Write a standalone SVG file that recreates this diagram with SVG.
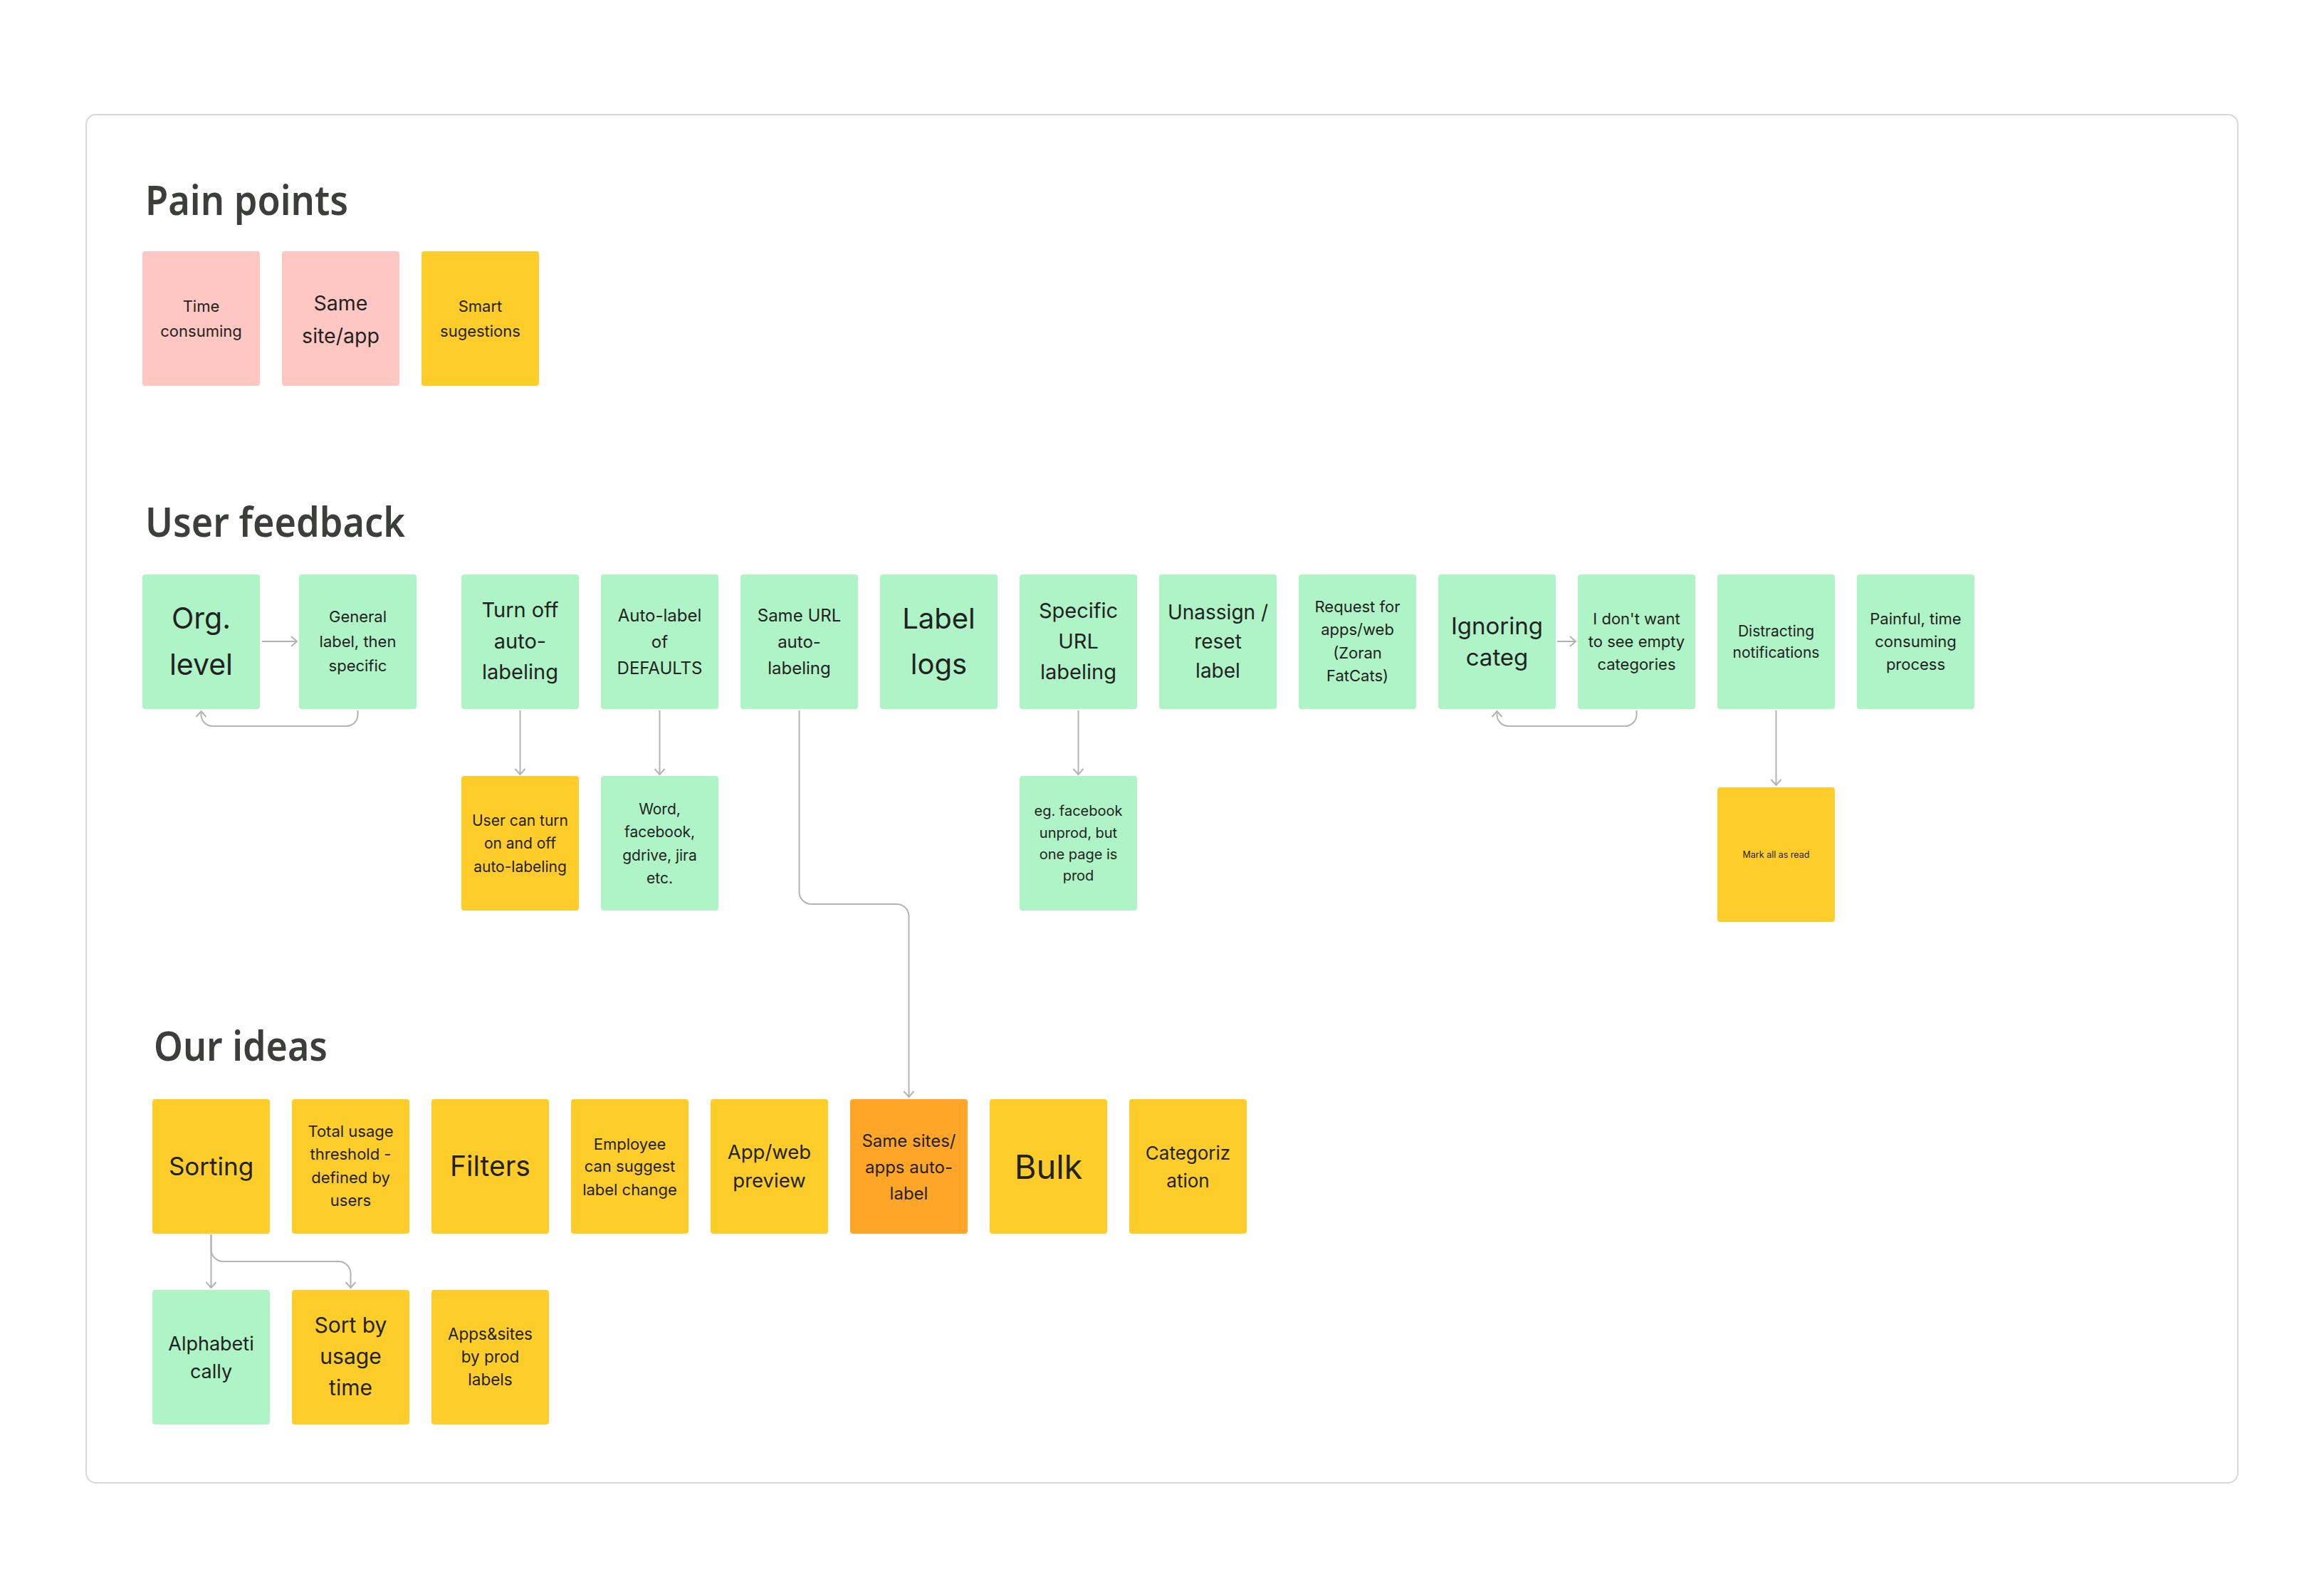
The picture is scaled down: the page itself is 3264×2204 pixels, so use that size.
<svg xmlns="http://www.w3.org/2000/svg" width="3264" height="2204" viewBox="0 0 3264 2204">
<style>
.frame{fill:#ffffff;stroke:#d9d7d7;stroke-width:2}
.title{font-family:"Noto Sans","Open Sans",sans-serif;font-weight:600;font-size:57px;fill:#3b3e3b}
.green{fill:#aff4c6}
.pink{fill:#ffc7c2}
.yellow{fill:#ffcd29}
.orange{fill:#ffa629}
.t{font-family:Inter,"Noto Sans",sans-serif;fill:#222222;text-anchor:middle}
.conn{fill:none;stroke:#b3b3b3;stroke-width:2}
</style>
<defs>
<marker id="arr" viewBox="-10 -10 20 20" refX="0" refY="0" markerWidth="20" markerHeight="20" markerUnits="userSpaceOnUse" orient="auto">
<path d="M -8 -7 L 0 0 L -8 7" fill="none" stroke="#b3b3b3" stroke-width="2"/>
</marker>
</defs>
<rect width="3264" height="2204" fill="#ffffff"/>
<rect class="frame" x="121" y="161" width="3022" height="1922" rx="14"/>

<text class="title" x="204" y="302" textLength="285" lengthAdjust="spacingAndGlyphs">Pain points</text>
<text class="title" x="204" y="754" textLength="365" lengthAdjust="spacingAndGlyphs">User feedback</text>
<text class="title" x="216" y="1490" textLength="244" lengthAdjust="spacingAndGlyphs">Our ideas</text>

<g id="connectors">
<path class="conn" d="M 368 901 H 417" marker-end="url(#arr)"/>
<path class="conn" d="M 502.5 998 V 1004 A 16 16 0 0 1 486.5 1020 H 298.5 A 16 16 0 0 1 282.5 1004 V 999" marker-end="url(#arr)"/>
<path class="conn" d="M 730.5 998 V 1088" marker-end="url(#arr)"/>
<path class="conn" d="M 926.5 998 V 1088" marker-end="url(#arr)"/>
<path class="conn" d="M 1122.5 998 V 1253 A 17 17 0 0 0 1139.5 1270 H 1259.5 A 17 17 0 0 1 1276.5 1287 V 1541" marker-end="url(#arr)"/>
<path class="conn" d="M 1514.5 998 V 1088" marker-end="url(#arr)"/>
<path class="conn" d="M 2187 901 H 2213" marker-end="url(#arr)"/>
<path class="conn" d="M 2298.5 998 V 1004 A 16 16 0 0 1 2282.5 1020 H 2118.5 A 16 16 0 0 1 2102.5 1004 V 999" marker-end="url(#arr)"/>
<path class="conn" d="M 2494.5 998 V 1103" marker-end="url(#arr)"/>
<path class="conn" d="M 296.5 1734 V 1809" marker-end="url(#arr)"/>
<path class="conn" d="M 296.5 1734 V 1755 A 17 17 0 0 0 313.5 1772 H 475.5 A 17 17 0 0 1 492.5 1789 V 1809" marker-end="url(#arr)"/>
</g>

<!-- Pain points -->
<g id="pp-time"><rect class="pink" x="200" y="353" width="165" height="189" rx="4"/>
<text class="t" font-size="22"><tspan x="282.5" y="438">Time</tspan><tspan x="282.5" y="473">consuming</tspan></text></g>
<g id="pp-same"><rect class="pink" x="396" y="353" width="165" height="189" rx="4"/>
<text class="t" font-size="28.5"><tspan x="478.5" y="436">Same</tspan><tspan x="478.5" y="482">site/app</tspan></text></g>
<g id="pp-smart"><rect class="yellow" x="592" y="353" width="165" height="189" rx="4"/>
<text class="t" font-size="22"><tspan x="674.5" y="438">Smart</tspan><tspan x="674.5" y="473">sugestions</tspan></text></g>

<!-- User feedback -->
<g id="uf-org"><rect class="green" x="200" y="807" width="165" height="189" rx="4"/>
<text class="t" font-size="41"><tspan x="282.5" y="883">Org.</tspan><tspan x="282.5" y="948">level</tspan></text></g>
<g id="uf-general"><rect class="green" x="420" y="807" width="165" height="189" rx="4"/>
<text class="t" font-size="22"><tspan x="502.5" y="874">General</tspan><tspan x="502.5" y="909">label, then</tspan><tspan x="502.5" y="943">specific</tspan></text></g>
<g id="uf-turnoff"><rect class="green" x="648" y="807" width="165" height="189" rx="4"/>
<text class="t" font-size="29"><tspan x="730.5" y="867">Turn off</tspan><tspan x="730.5" y="911">auto-</tspan><tspan x="730.5" y="954">labeling</tspan></text></g>
<g id="uf-autolabel"><rect class="green" x="844" y="807" width="165" height="189" rx="4"/>
<text class="t" font-size="24"><tspan x="926.5" y="873">Auto-label</tspan><tspan x="926.5" y="910">of</tspan><tspan x="926.5" y="947">DEFAULTS</tspan></text></g>
<g id="uf-sameurl"><rect class="green" x="1040" y="807" width="165" height="189" rx="4"/>
<text class="t" font-size="24"><tspan x="1122.5" y="873">Same URL</tspan><tspan x="1122.5" y="910">auto-</tspan><tspan x="1122.5" y="947">labeling</tspan></text></g>
<g id="uf-labellogs"><rect class="green" x="1236" y="807" width="165" height="189" rx="4"/>
<text class="t" font-size="40"><tspan x="1318.5" y="883">Label</tspan><tspan x="1318.5" y="947">logs</tspan></text></g>
<g id="uf-specific"><rect class="green" x="1432" y="807" width="165" height="189" rx="4"/>
<text class="t" font-size="29"><tspan x="1514.5" y="868">Specific</tspan><tspan x="1514.5" y="911">URL</tspan><tspan x="1514.5" y="954">labeling</tspan></text></g>
<g id="uf-unassign"><rect class="green" x="1628" y="807" width="165" height="189" rx="4"/>
<text class="t" font-size="28"><tspan x="1710.5" y="870">Unassign /</tspan><tspan x="1710.5" y="911">reset</tspan><tspan x="1710.5" y="952">label</tspan></text></g>
<g id="uf-request"><rect class="green" x="1824" y="807" width="165" height="189" rx="4"/>
<text class="t" font-size="22"><tspan x="1906.5" y="860">Request for</tspan><tspan x="1906.5" y="892">apps/web</tspan><tspan x="1906.5" y="925">(Zoran</tspan><tspan x="1906.5" y="957">FatCats)</tspan></text></g>
<g id="uf-ignoring"><rect class="green" x="2020" y="807" width="165" height="189" rx="4"/>
<text class="t" font-size="33"><tspan x="2102.5" y="891">Ignoring</tspan><tspan x="2102.5" y="935">categ</tspan></text></g>
<g id="uf-empty"><rect class="green" x="2216" y="807" width="165" height="189" rx="4"/>
<text class="t" font-size="22"><tspan x="2298.5" y="877">I don't want</tspan><tspan x="2298.5" y="909">to see empty</tspan><tspan x="2298.5" y="941">categories</tspan></text></g>
<g id="uf-distracting"><rect class="green" x="2412" y="807" width="165" height="189" rx="4"/>
<text class="t" font-size="21"><tspan x="2494.5" y="894">Distracting</tspan><tspan x="2494.5" y="924">notifications</tspan></text></g>
<g id="uf-painful"><rect class="green" x="2608" y="807" width="165" height="189" rx="4"/>
<text class="t" font-size="22"><tspan x="2690.5" y="877">Painful, time</tspan><tspan x="2690.5" y="909">consuming</tspan><tspan x="2690.5" y="941">process</tspan></text></g>

<g id="uf-usercan"><rect class="yellow" x="648" y="1090" width="165" height="189" rx="4"/>
<text class="t" font-size="21"><tspan x="730.5" y="1160">User can turn</tspan><tspan x="730.5" y="1192">on and off</tspan><tspan x="730.5" y="1225">auto-labeling</tspan></text></g>
<g id="uf-word"><rect class="green" x="844" y="1090" width="165" height="189" rx="4"/>
<text class="t" font-size="21"><tspan x="926.5" y="1144">Word,</tspan><tspan x="926.5" y="1176">facebook,</tspan><tspan x="926.5" y="1209">gdrive, jira</tspan><tspan x="926.5" y="1241">etc.</tspan></text></g>
<g id="uf-eg"><rect class="green" x="1432" y="1090" width="165" height="189" rx="4"/>
<text class="t" font-size="20"><tspan x="1514.5" y="1146">eg. facebook</tspan><tspan x="1514.5" y="1177">unprod, but</tspan><tspan x="1514.5" y="1207">one page is</tspan><tspan x="1514.5" y="1237">prod</tspan></text></g>
<g id="uf-markall"><rect class="yellow" x="2412" y="1106" width="165" height="189" rx="4"/>
<text class="t" font-size="12.5" x="2494.5" y="1204.5">Mark all as read</text></g>

<!-- Our ideas -->
<g id="oi-sorting"><rect class="yellow" x="214" y="1544" width="165" height="189" rx="4"/>
<text class="t" font-size="35" x="296.5" y="1651">Sorting</text></g>
<g id="oi-total"><rect class="yellow" x="410" y="1544" width="165" height="189" rx="4"/>
<text class="t" font-size="22"><tspan x="492.5" y="1597">Total usage</tspan><tspan x="492.5" y="1629">threshold -</tspan><tspan x="492.5" y="1662">defined by</tspan><tspan x="492.5" y="1694">users</tspan></text></g>
<g id="oi-filters"><rect class="yellow" x="606" y="1544" width="165" height="189" rx="4"/>
<text class="t" font-size="39" x="688.5" y="1652">Filters</text></g>
<g id="oi-employee"><rect class="yellow" x="802" y="1544" width="165" height="189" rx="4"/>
<text class="t" font-size="22"><tspan x="884.5" y="1615">Employee</tspan><tspan x="884.5" y="1646">can suggest</tspan><tspan x="884.5" y="1679">label change</tspan></text></g>
<g id="oi-appweb"><rect class="yellow" x="998" y="1544" width="165" height="189" rx="4"/>
<text class="t" font-size="27.5"><tspan x="1080.5" y="1628">App/web</tspan><tspan x="1080.5" y="1668">preview</tspan></text></g>
<g id="oi-samesites"><rect class="orange" x="1194" y="1544" width="165" height="189" rx="4"/>
<text class="t" font-size="24"><tspan x="1276.5" y="1611">Same sites/</tspan><tspan x="1276.5" y="1648">apps auto-</tspan><tspan x="1276.5" y="1685">label</tspan></text></g>
<g id="oi-bulk"><rect class="yellow" x="1390" y="1544" width="165" height="189" rx="4"/>
<text class="t" font-size="47" x="1472.5" y="1656">Bulk</text></g>
<g id="oi-categ"><rect class="yellow" x="1586" y="1544" width="165" height="189" rx="4"/>
<text class="t" font-size="26"><tspan x="1668.5" y="1629">Categoriz</tspan><tspan x="1668.5" y="1668">ation</tspan></text></g>

<g id="oi-alpha"><rect class="green" x="214" y="1812" width="165" height="189" rx="4"/>
<text class="t" font-size="27"><tspan x="296.5" y="1897">Alphabeti</tspan><tspan x="296.5" y="1936">cally</tspan></text></g>
<g id="oi-sortby"><rect class="yellow" x="410" y="1812" width="165" height="189" rx="4"/>
<text class="t" font-size="30"><tspan x="492.5" y="1872">Sort by</tspan><tspan x="492.5" y="1916">usage</tspan><tspan x="492.5" y="1960">time</tspan></text></g>
<g id="oi-apps"><rect class="yellow" x="606" y="1812" width="165" height="189" rx="4"/>
<text class="t" font-size="22.5"><tspan x="688.5" y="1882">Apps&amp;sites</tspan><tspan x="688.5" y="1914">by prod</tspan><tspan x="688.5" y="1946">labels</tspan></text></g>
</svg>
